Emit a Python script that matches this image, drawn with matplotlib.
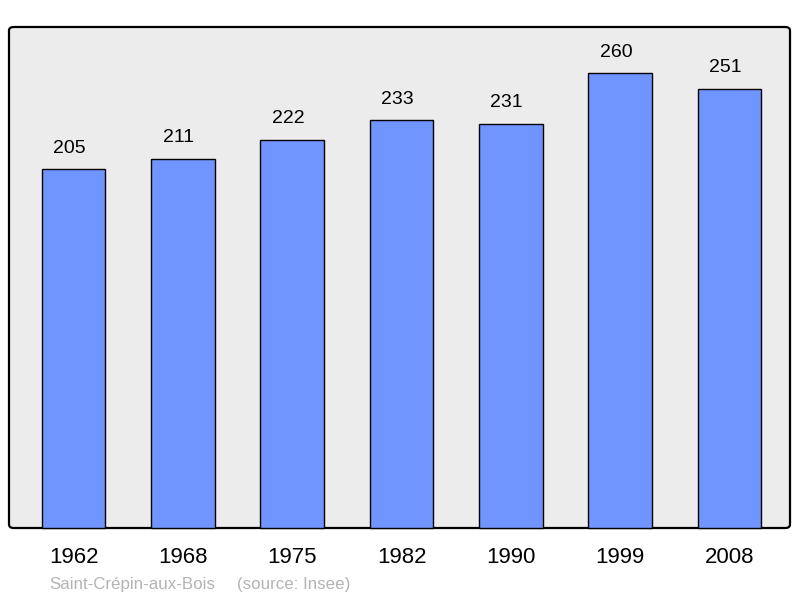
import matplotlib
matplotlib.use("Agg")
import matplotlib.pyplot as plt
from matplotlib.patches import FancyBboxPatch

plt.rcParams['font.family'] = ['Liberation Sans', 'DejaVu Sans']

# data
years = ["1962", "1968", "1975", "1982", "1990", "1999", "2008"]
population = [205, 211, 222, 233, 231, 260, 251]
commune = "Saint-Crépin-aux-Bois"
source = "(source: Insee)"

W, H = 800, 598
fig = plt.figure(figsize=(W / 100, H / 100), dpi=100)

# axes box in pixel terms
x0, y0, x1, y1 = 9, 27, 790, 528
ax = fig.add_axes([x0 / W, 1 - y1 / H, (x1 - x0) / W, (y1 - y0) / H])
ax.patch.set_visible(False)
for s in ax.spines.values():
    s.set_visible(False)

# rounded background panel, behind the axes
panel = FancyBboxPatch((x0 / W, 1 - y1 / H), (x1 - x0) / W, (y1 - y0) / H,
                       boxstyle="round,pad=0,rounding_size=0.006",
                       transform=fig.transFigure, facecolor="#ececec",
                       edgecolor="black", linewidth=1.6, zorder=-1)
fig.patches.append(panel)

pos = list(range(len(years)))
ax.bar(pos, population, width=0.58, color="#7095ff",
       edgecolor="black", linewidth=1.0, zorder=2, clip_on=False)

for p, v in zip(pos, population):
    ax.annotate(str(v), (p, v), xytext=(-3, 9), textcoords="offset points",
                ha="center", va="bottom", fontsize=14, color="black")

ax.set_xlim(-0.59, 6.553)
ax.set_ylim(0, 286.3)
ax.set_yticks([])
ax.set_xticks(pos)
ax.set_xticklabels(years, fontsize=16)
ax.tick_params(axis="x", length=0, pad=14)

fig.text(49 / W, 1 - 584 / H, commune, fontsize=12.2,
         color="#b4b4b4", ha="left", va="center")
fig.text(237 / W, 1 - 584 / H, source, fontsize=12.2,
         color="#b4b4b4", ha="left", va="center")

fig.savefig("out.png", dpi=100)
